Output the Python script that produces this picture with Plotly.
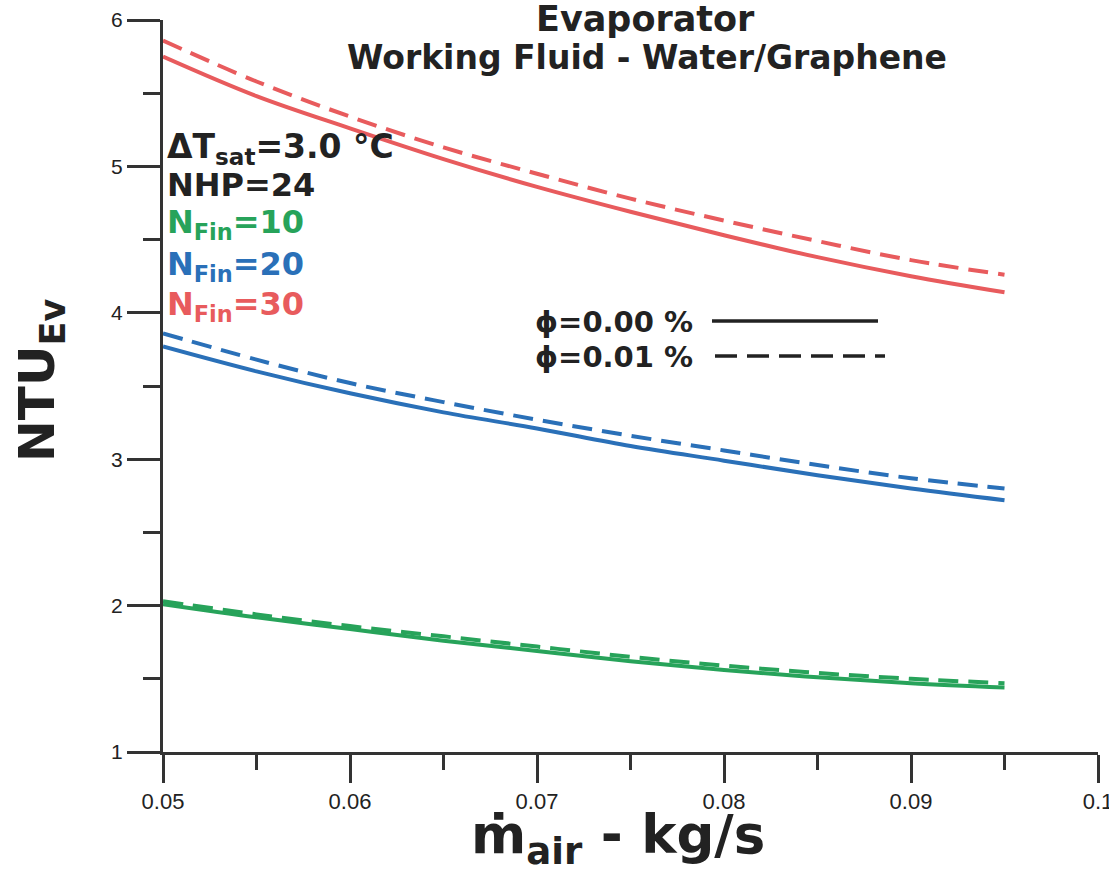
import plotly.graph_objects as go

# Air mass flow rate (kg/s)
mass_flow = [0.050, 0.055, 0.060, 0.065, 0.070, 0.075, 0.080, 0.085, 0.090, 0.095]

# Evaporator NTU, water (phi = 0.00 %) and water/graphene (phi = 0.01 %)
ntu_fin10_base = [2.01, 1.92, 1.84, 1.76, 1.69, 1.62, 1.56, 1.51, 1.47, 1.44]
ntu_fin10_nano = [2.03, 1.94, 1.86, 1.79, 1.72, 1.65, 1.59, 1.54, 1.50, 1.47]
ntu_fin20_base = [3.77, 3.60, 3.45, 3.32, 3.21, 3.09, 2.99, 2.89, 2.80, 2.72]
ntu_fin20_nano = [3.86, 3.68, 3.52, 3.39, 3.27, 3.16, 3.06, 2.96, 2.87, 2.80]
ntu_fin30_base = [5.75, 5.48, 5.26, 5.05, 4.86, 4.69, 4.53, 4.38, 4.25, 4.14]
ntu_fin30_nano = [5.86, 5.58, 5.34, 5.13, 4.95, 4.78, 4.63, 4.49, 4.36, 4.26]

x_ticks = [0.05, 0.06, 0.07, 0.08, 0.09, 0.1]
y_ticks = [1, 2, 3, 4, 5, 6]

GREEN = "#27a35a"
BLUE = "#2a70b8"
RED = "#e85b5d"
AXIS = "#333333"
DASH = "20px,10px"

W, H = 1109, 874
ML, MR, MT, MB = 163, 11, 20, 122
PW, PH = W - ML - MR, H - MT - MB


def px(x):
    return (x - ML) / PW


def py(y):
    return (H - MB - y) / PH


series = [
    (ntu_fin10_base, GREEN, "solid"),
    (ntu_fin10_nano, GREEN, DASH),
    (ntu_fin20_base, BLUE, "solid"),
    (ntu_fin20_nano, BLUE, DASH),
    (ntu_fin30_base, RED, "solid"),
    (ntu_fin30_nano, RED, DASH),
]

fig = go.Figure()
for values, color, dash in series:
    fig.add_trace(go.Scatter(
        x=mass_flow, y=values, mode="lines", showlegend=False,
        line=dict(color=color, width=4, dash=dash, shape="spline"),
    ))

bold = dict(family="DejaVu Sans", weight="bold")

annotations = [
    dict(text="Evaporator", x=px(645), y=py(19), size=35, color="#222222", xanchor="center"),
    dict(text="Working Fluid - Water/Graphene", x=px(647), y=py(57), size=33, color="#222222", xanchor="center"),
    dict(text="ΔT<sub>sat</sub>=3.0 °C", x=px(165), y=py(148), size=33, color="#222222", xanchor="left"),
    dict(text="NHP=24", x=px(165), y=py(185), size=32, color="#222222", xanchor="left"),
    dict(text="N<sub>Fin</sub>=10", x=px(165), y=py(224), size=32, color=GREEN, xanchor="left"),
    dict(text="N<sub>Fin</sub>=20", x=px(165), y=py(266), size=32, color=BLUE, xanchor="left"),
    dict(text="N<sub>Fin</sub>=30", x=px(165), y=py(306), size=32, color=RED, xanchor="left"),
    dict(text="ϕ=0.00 %", x=px(533), y=py(322), size=29, color="#222222", xanchor="left"),
    dict(text="ϕ=0.01 %", x=px(533), y=py(357), size=29, color="#222222", xanchor="left"),
    dict(text="ṁ<sub>air</sub> - kg/s", x=px(618), y=py(838), size=53, color="#222222", xanchor="center"),
]

for a in annotations:
    fig.add_annotation(
        text=a["text"], x=a["x"], y=a["y"], xref="paper", yref="paper",
        xanchor=a["xanchor"], yanchor="middle", showarrow=False,
        font=dict(size=a["size"], color=a["color"], **bold),
    )

fig.add_annotation(
    text="NTU<sub>Ev</sub>", x=px(40), y=py(380), xref="paper", yref="paper",
    xanchor="center", yanchor="middle", showarrow=False, textangle=-90,
    font=dict(size=50, color="#222222", **bold),
)

# Line-style key
fig.add_shape(type="line", xref="paper", yref="paper",
              x0=px(712), x1=px(878), y0=py(321), y1=py(321),
              line=dict(color="#222222", width=3.5))
fig.add_shape(type="line", xref="paper", yref="paper",
              x0=px(715), x1=px(885), y0=py(356), y1=py(356),
              line=dict(color="#222222", width=3.5, dash="22px,10px"))

fig.update_layout(
    width=W, height=H,
    margin=dict(l=ML, r=MR, t=MT, b=MB, autoexpand=False),
    paper_bgcolor="white", plot_bgcolor="white",
    xaxis=dict(
        range=[0.05, 0.1], tickvals=x_ticks, ticktext=[f"{v:g}" for v in x_ticks],
        ticks="outside", ticklen=28, tickwidth=3, tickcolor=AXIS,
        showline=True, linewidth=3, linecolor=AXIS, automargin=False,
        showgrid=False, zeroline=False, ticklabeloverflow="allow",
        minor=dict(dtick=0.005, tick0=0.05, ticks="outside", ticklen=15, tickwidth=3, tickcolor=AXIS),
        tickfont=dict(family="Liberation Sans", size=22, color="#222222"),
    ),
    yaxis=dict(
        range=[1, 6], tickvals=y_ticks,
        ticks="outside", ticklen=33, tickwidth=3, tickcolor=AXIS,
        showline=True, linewidth=3, linecolor=AXIS, automargin=False,
        showgrid=False, zeroline=False,
        minor=dict(dtick=0.5, tick0=1, ticks="outside", ticklen=17, tickwidth=3, tickcolor=AXIS),
        tickfont=dict(family="Liberation Sans", size=21, color="#222222"),
    ),
)

fig.write_html("out.html")
